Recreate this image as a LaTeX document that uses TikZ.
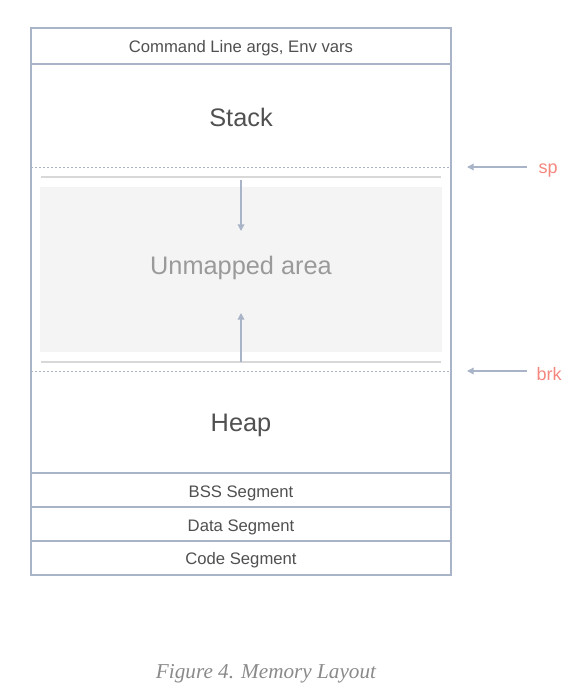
\documentclass[tikz,border=0pt]{standalone}
\usepackage{fontspec}
\setmainfont{Liberation Sans}
\newfontfamily\capfont{Liberation Serif}
\usetikzlibrary{arrows.meta}
\definecolor{frame}{HTML}{A9B4C8}
\definecolor{txt}{HTML}{505050}
\definecolor{unm}{HTML}{9A9A9A}
\definecolor{fillg}{HTML}{F4F4F4}
\definecolor{sepg}{HTML}{D8D8D8}
\definecolor{ptr}{HTML}{F4877E}
\definecolor{capc}{HTML}{8A8A8A}
\begin{document}
\begin{tikzpicture}[x=0.75pt,y=-0.75pt,
  frameline/.style={draw=frame,line width=0.8pt},
  dotline/.style={draw=frame,line width=0.7pt,dash pattern=on 1.5pt off 1.5pt},
  sepline/.style={draw=sepg,line width=1pt},
  arr/.style={draw=frame,line width=1pt,-{Triangle[length=5pt,width=5pt]}},
  small/.style={text=txt,font=\fontsize{12.5}{14}\selectfont},
  big/.style={text=txt,font=\fontsize{19}{22}\selectfont},
  ptrlab/.style={text=ptr,font=\fontsize{13.5}{16}\selectfont,anchor=west}]
\useasboundingbox (0,0) rectangle (575,695);
% unmapped fill
\fill[fillg] (40,187) rectangle (442,352);
\draw[sepline] (41,177) -- (441,177);
\draw[sepline] (41,362) -- (441,362);
% frame
\draw[frameline] (31,28) rectangle (451,575);
\draw[frameline] (31,64) -- (451,64);
\draw[frameline] (31,473) -- (451,473);
\draw[frameline] (31,507) -- (451,507);
\draw[frameline] (31,541) -- (451,541);
\draw[dotline] (31,167) -- (451,167);
\draw[dotline] (31,371) -- (451,371);
% labels
\node[small] (cmd) at (241,48) {Command Line args, Env vars};
\node[big] (stack) at (241,117) {Stack};
\node[big,text=unm] (unmapped) at (241,268) {Unmapped area};
\node[big] (heap) at (241,425) {Heap};
\node[small] (bss) at (241,493) {BSS Segment};
\node[small] (data) at (241,527) {Data Segment};
\node[small] (code) at (241,560) {Code Segment};
% internal arrows
\coordinate (dtop) at (241,180);
\coordinate (dbot) at (241,231);
\coordinate (utop) at (241,313);
\coordinate (ubot) at (241,362);
\draw[arr] (dtop) -- (dbot);
\draw[arr] (ubot) -- (utop);
% pointers
\node[ptrlab] (sp) at (534,171) {sp};
\node[ptrlab] (brk) at (532,374) {brk};
\coordinate (spend) at (467,167);
\coordinate (brkend) at (467,371);
\draw[arr] (527,167) -- (spend);
\draw[arr] (527,371) -- (brkend);
% caption
\node[text=capc,font=\capfont\itshape\fontsize{15.9}{18}\selectfont] (caption) at (266,674) {Figure 4. Memory Layout};
\end{tikzpicture}
\end{document}
